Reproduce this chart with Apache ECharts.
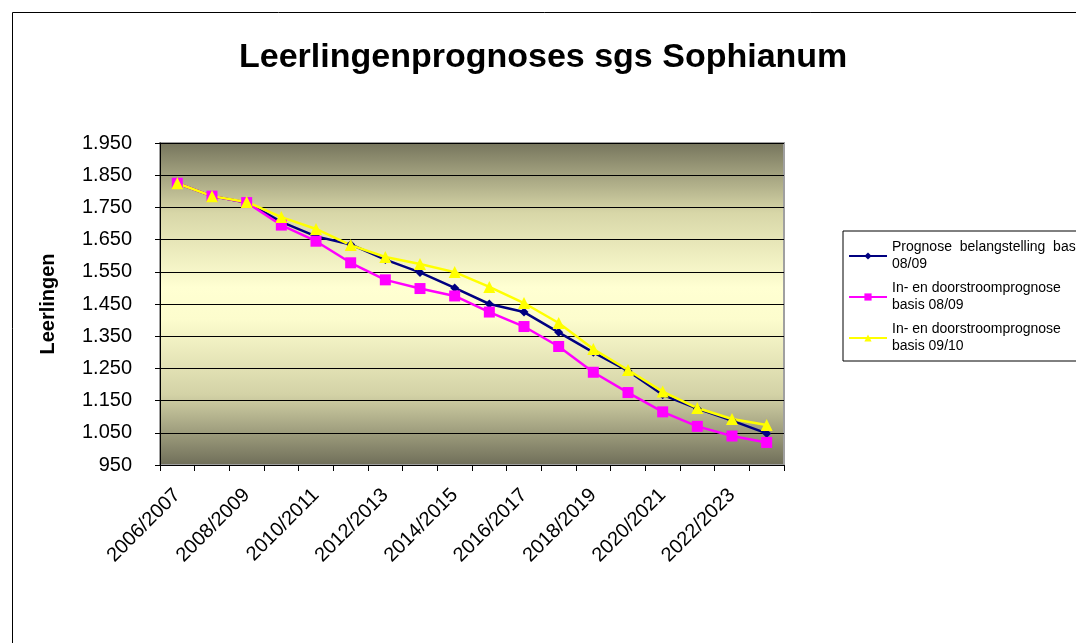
<!DOCTYPE html>
<html>
<head>
<meta charset="utf-8">
<script src="https://cdn.jsdelivr.net/npm/echarts@6/dist/echarts.min.js"></script>
<style>
  html, body { margin: 0; padding: 0; background: #fff; }
  #main { width: 1076px; height: 643px; }
</style>
</head>
<body>
<div id="main"></div>
<script>
// schooljaren
var schooljaren = ['2006/2007','2007/2008','2008/2009','2009/2010','2010/2011','2011/2012',
    '2012/2013','2013/2014','2014/2015','2015/2016','2016/2017','2017/2018',
    '2018/2019','2019/2020','2020/2021','2021/2022','2022/2023','2023/2024'];

// Prognose belangstelling basis 08/09
var belangstelling_0809 = [1825, 1785, 1765, 1705, 1660, 1635, 1588, 1548, 1500, 1450,
    1425, 1362, 1300, 1242, 1168, 1125, 1088, 1048];

// In- en doorstroomprognose basis 08/09
var doorstroom_0809 = [1825, 1785, 1765, 1695, 1645, 1578, 1525, 1498, 1475, 1425,
    1380, 1318, 1238, 1175, 1115, 1070, 1040, 1020];

// In- en doorstroomprognose basis 09/10
var doorstroom_0910 = [1825, 1785, 1767, 1720, 1683, 1633, 1596, 1574, 1549, 1503,
    1453, 1391, 1310, 1245, 1178, 1127, 1093, 1074];

var seriesNames = ['Prognose belangstelling basis 08/09',
    'In- en doorstroomprognose basis 08/09',
    'In- en doorstroomprognose basis 09/10'];

var fontFam = '"Liberation Sans", Arial, sans-serif';

function fmtNL(v) {
    var s = String(v);
    if (s.length > 3) s = s.slice(0, s.length - 3) + '.' + s.slice(s.length - 3);
    return s;
}

var myChart = echarts.init(document.getElementById('main'));

var option = {
    backgroundColor: '#fff',
    animation: false,
    textStyle: { fontFamily: fontFam },
    title: {
        text: 'Leerlingenprognoses sgs Sophianum',
        left: 234,
        top: 36,
        textStyle: { fontFamily: fontFam, fontSize: 34, fontWeight: 'bold', color: '#000' }
    },
    graphic: [{
        type: 'rect',
        shape: { x: 12.5, y: 12.5, width: 1100, height: 700 },
        style: { fill: 'none', stroke: '#000', lineWidth: 1 },
        silent: true,
        z: -1
    }],
    legend: {
        orient: 'vertical',
        left: 843,
        top: 231,
        padding: [8, 40, 6, 5],
        itemGap: 7,
        itemWidth: 38,
        itemHeight: 9,
        borderColor: '#000',
        borderWidth: 1,
        backgroundColor: '#fff',
        data: seriesNames,
        formatter: function (name) {
            if (name == seriesNames[0]) return 'Prognose  belangstelling  basis\n08/09';
            if (name == seriesNames[1]) return 'In- en doorstroomprognose\nbasis 08/09';
            return 'In- en doorstroomprognose\nbasis 09/10';
        },
        textStyle: { fontFamily: fontFam, fontSize: 14, lineHeight: 17, color: '#000' }
    },
    grid: {
        left: 160,
        top: 143,
        width: 624,
        height: 322,
        show: true,
        borderColor: '#a0a0a0',
        borderWidth: 2,
        backgroundColor: new echarts.graphic.LinearGradient(0, 0, 0, 1, [
            { offset: 0, color: '#75745c' },
            { offset: 0.22, color: '#d8d7a8' },
            { offset: 0.45, color: '#ffffd2' },
            { offset: 0.55, color: '#fcfccd' },
            { offset: 0.78, color: '#d3d2a6' },
            { offset: 1, color: '#6e6d58' }
        ])
    },
    xAxis: {
        type: 'category',
        data: schooljaren,
        boundaryGap: true,
        axisLine: { lineStyle: { color: '#000', width: 1 } },
        axisTick: { show: true, alignWithLabel: false, interval: 0, length: 6, lineStyle: { color: '#000' } },
        axisLabel: {
            interval: 1,
            rotate: 45,
            margin: 27,
            fontFamily: fontFam,
            fontSize: 20,
            color: '#000'
        }
    },
    yAxis: {
        type: 'value',
        min: 950,
        max: 1950,
        interval: 100,
        name: 'Leerlingen',
        nameLocation: 'middle',
        nameGap: 102,
        nameTextStyle: { fontFamily: fontFam, fontSize: 20, fontWeight: 'bold', color: '#000' },
        axisLine: { show: true, lineStyle: { color: '#000', width: 1 } },
        axisTick: { show: true, length: 5, lineStyle: { color: '#000' } },
        splitLine: { show: true, lineStyle: { color: '#000', width: 1 } },
        axisLabel: {
            margin: 28,
            fontFamily: fontFam,
            fontSize: 20,
            color: '#000',
            formatter: fmtNL
        }
    },
    series: [
        {
            name: seriesNames[0],
            type: 'line',
            data: belangstelling_0809,
            symbol: 'diamond',
            symbolSize: 9,
            itemStyle: { color: '#000080' },
            lineStyle: { color: '#000080', width: 2.5 }
        },
        {
            name: seriesNames[1],
            type: 'line',
            data: doorstroom_0809,
            symbol: 'rect',
            symbolSize: 11,
            itemStyle: { color: '#ff00ff' },
            lineStyle: { color: '#ff00ff', width: 2.5 }
        },
        {
            name: seriesNames[2],
            type: 'line',
            data: doorstroom_0910,
            symbol: 'triangle',
            symbolSize: 12,
            itemStyle: { color: '#ffff00' },
            lineStyle: { color: '#ffff00', width: 2.5 }
        }
    ]
};

myChart.setOption(option);
</script>
</body>
</html>
